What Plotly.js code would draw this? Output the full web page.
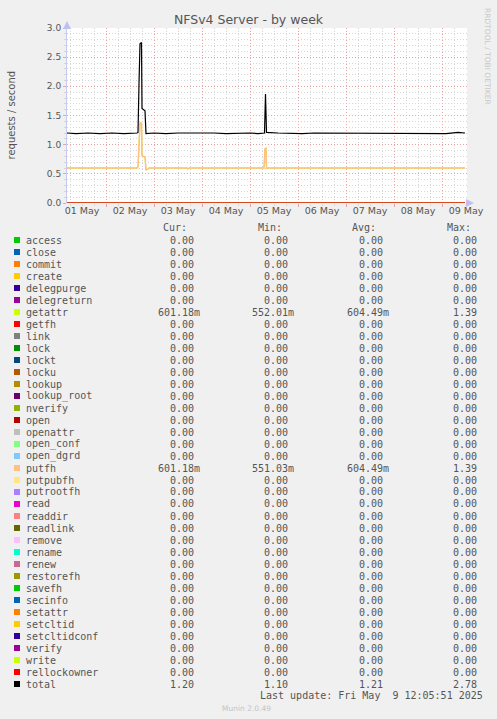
<!DOCTYPE html>
<html>
<head>
<meta charset="utf-8">
<script src="https://cdn.plot.ly/plotly-3.0.1.min.js"></script>
<style>
  html, body { margin: 0; padding: 0; background: #f0f0f0; }
  #graph { width: 497px; height: 719px; }
</style>
</head>
<body>
<div id="graph"></div>
<script>
"use strict";

// legend / series list, in munin field order
var fieldNames = ["access", "close", "commit", "create", "delegpurge", "delegreturn", "getattr", "getfh",
    "link", "lock", "lockt", "locku", "lookup", "lookup_root", "nverify", "open", "openattr", "open_conf",
    "open_dgrd", "putfh", "putpubfh", "putrootfh", "read", "readdir", "readlink", "remove", "rename", "renew",
    "restorefh", "savefh", "secinfo", "setattr", "setcltid", "setcltidconf", "verify", "write", "rellockowner", "total"];
var fieldColors = ["#00CC00", "#0066B3", "#FF8000", "#FFCC00", "#330099", "#990099", "#CCFF00", "#FF0000",
    "#808080", "#008F00", "#00487D", "#B35A00", "#B38F00", "#6B006B", "#8FB300", "#B30000", "#BEBEBE", "#80FF80",
    "#80C9FF", "#FFC080", "#FFE680", "#AA80FF", "#EE00CC", "#FF8080", "#666600", "#FFBFFF", "#00FFCC", "#CC6699",
    "#999900", "#00CC00", "#0066B3", "#FF8000", "#FFCC00", "#330099", "#990099", "#CCFF00", "#FF0000", "#000000"];

var curValues = ["0.00", "0.00", "0.00", "0.00", "0.00", "0.00", "601.18m", "0.00", "0.00", "0.00", "0.00", "0.00",
    "0.00", "0.00", "0.00", "0.00", "0.00", "0.00", "0.00", "601.18m", "0.00", "0.00", "0.00", "0.00", "0.00", "0.00",
    "0.00", "0.00", "0.00", "0.00", "0.00", "0.00", "0.00", "0.00", "0.00", "0.00", "0.00", "1.20"];
var minValues = ["0.00", "0.00", "0.00", "0.00", "0.00", "0.00", "552.01m", "0.00", "0.00", "0.00", "0.00", "0.00",
    "0.00", "0.00", "0.00", "0.00", "0.00", "0.00", "0.00", "551.03m", "0.00", "0.00", "0.00", "0.00", "0.00", "0.00",
    "0.00", "0.00", "0.00", "0.00", "0.00", "0.00", "0.00", "0.00", "0.00", "0.00", "0.00", "1.10"];
var avgValues = ["0.00", "0.00", "0.00", "0.00", "0.00", "0.00", "604.49m", "0.00", "0.00", "0.00", "0.00", "0.00",
    "0.00", "0.00", "0.00", "0.00", "0.00", "0.00", "0.00", "604.49m", "0.00", "0.00", "0.00", "0.00", "0.00", "0.00",
    "0.00", "0.00", "0.00", "0.00", "0.00", "0.00", "0.00", "0.00", "0.00", "0.00", "0.00", "1.21"];
var maxValues = ["0.00", "0.00", "0.00", "0.00", "0.00", "0.00", "1.39", "0.00", "0.00", "0.00", "0.00", "0.00",
    "0.00", "0.00", "0.00", "0.00", "0.00", "0.00", "0.00", "1.39", "0.00", "0.00", "0.00", "0.00", "0.00", "0.00",
    "0.00", "0.00", "0.00", "0.00", "0.00", "0.00", "0.00", "0.00", "0.00", "0.00", "0.00", "2.78"];

var dayTicks = ["2025-05-01 12:00", "2025-05-02 12:00", "2025-05-03 12:00", "2025-05-04 12:00", "2025-05-05 12:00",
    "2025-05-06 12:00", "2025-05-07 12:00", "2025-05-08 12:00", "2025-05-09 12:00"];
var dayLabels = ["01 May", "02 May", "03 May", "04 May", "05 May", "06 May", "07 May", "08 May", "09 May"];

var totalTimes = ["2025-05-01 04:30", "2025-05-01 09:00", "2025-05-01 15:00", "2025-05-01 21:00", "2025-05-02 03:00",
    "2025-05-02 09:00", "2025-05-02 15:30", "2025-05-02 16:00", "2025-05-02 16:30", "2025-05-02 17:00",
    "2025-05-02 17:45", "2025-05-02 18:00", "2025-05-02 19:30", "2025-05-02 20:00", "2025-05-03 00:00",
    "2025-05-03 06:00", "2025-05-03 12:00", "2025-05-03 18:00", "2025-05-04 00:00", "2025-05-04 06:00",
    "2025-05-04 12:00", "2025-05-04 18:00", "2025-05-05 00:00", "2025-05-05 04:00", "2025-05-05 07:15",
    "2025-05-05 07:45", "2025-05-05 08:15", "2025-05-05 14:00", "2025-05-05 20:00", "2025-05-06 02:00",
    "2025-05-06 08:00", "2025-05-06 14:00", "2025-05-06 20:00", "2025-05-07 02:00", "2025-05-07 08:00",
    "2025-05-07 14:00", "2025-05-07 20:00", "2025-05-08 02:00", "2025-05-08 08:00", "2025-05-08 14:00",
    "2025-05-08 20:00", "2025-05-09 02:00", "2025-05-09 08:00", "2025-05-09 11:30"];
var totalValues = [1.20, 1.19, 1.20, 1.19, 1.20,
    1.19, 1.20, 1.21, 2.05, 2.73,
    2.75, 1.62, 1.58, 1.19, 1.20,
    1.19, 1.20, 1.20, 1.21, 1.20,
    1.19, 1.20, 1.20, 1.19, 1.20,
    1.87, 1.21, 1.20, 1.19, 1.19,
    1.20, 1.20, 1.19, 1.20, 1.20,
    1.19, 1.20, 1.20, 1.19, 1.20,
    1.20, 1.19, 1.21, 1.20];

var opTimes = ["2025-05-01 04:30", "2025-05-02 15:30", "2025-05-02 16:00", "2025-05-02 16:30", "2025-05-02 17:00",
    "2025-05-02 17:45", "2025-05-02 18:00", "2025-05-02 19:30", "2025-05-02 20:00", "2025-05-02 21:00",
    "2025-05-02 21:30", "2025-05-03 16:30", "2025-05-03 17:00", "2025-05-03 17:30", "2025-05-04 08:00",
    "2025-05-04 08:30", "2025-05-04 09:00", "2025-05-05 07:00", "2025-05-05 07:30", "2025-05-05 08:00",
    "2025-05-05 08:15", "2025-05-08 04:30", "2025-05-08 05:00", "2025-05-08 05:30", "2025-05-09 11:30"];
var getattrValues = [0.60, 0.60, 0.62, 0.95, 1.37,
    1.37, 0.81, 0.79, 0.57, 0.58,
    0.60, 0.60, 0.585, 0.60, 0.60,
    0.59, 0.60, 0.60, 0.93, 0.94,
    0.60, 0.60, 0.59, 0.60, 0.60];
var putfhValues = [0.60, 0.60, 0.62, 0.95, 1.37,
    1.37, 0.81, 0.79, 0.57, 0.58,
    0.60, 0.60, 0.585, 0.60, 0.60,
    0.59, 0.60, 0.60, 0.93, 0.94,
    0.60, 0.60, 0.59, 0.60, 0.60];

var zeroTimes = ["2025-05-01 04:30", "2025-05-09 11:30"];
var zeroValues = [0, 0];

var xRange = ["2025-05-01 04:30", "2025-05-09 12:30"];

// plot area in page pixels: x 67..467, y 28..203
function px(x) { return (x - 67) / 400; }
function py(y) { return (203 - y) / 175; }

var textColor = "#555555";
var mono = "DejaVu Sans Mono, monospace";
var sans = "DejaVu Sans, sans-serif";

var traces = [];
for (var i = 0; i < fieldNames.length; i++) {
    var name = fieldNames[i];
    var xs = zeroTimes, ys = zeroValues, w = 1;
    if (name === "getattr") { xs = opTimes; ys = getattrValues; }
    if (name === "putfh") { xs = opTimes; ys = putfhValues; w = 1.5; }
    if (name === "total") { xs = totalTimes; ys = totalValues; w = 1.2; }
    traces.push({
        x: xs, y: ys, name: name, type: "scatter", mode: "lines",
        xaxis: name === "total" ? "x2" : "x",
        line: { color: fieldColors[i], width: w },
        hoverinfo: "skip"
    });
}

var annotations = [];
var shapes = [];
function label(x, y, text, anchor, font) {
    annotations.push({
        xref: "paper", yref: "paper", x: px(x), y: py(y), text: text, showarrow: false,
        xanchor: anchor, yanchor: "middle", borderpad: 0, borderwidth: 0, font: font
    });
}
function cell(v) {
    // rrdtool leaves a blank where the si suffix would go
    return /[a-z]$/i.test(v) ? v : v + "\u00a0";
}

var legendFont = { family: mono, size: 10, color: textColor };
label(162.7, 227, "Cur:", "left", legendFont);
label(258, 227, "Min:", "left", legendFont);
label(352, 227, "Avg:", "left", legendFont);
label(447, 227, "Max:", "left", legendFont);

for (var j = 0; j < fieldNames.length; j++) {
    var rowY = 240 + 12 * j;
    shapes.push({
        type: "rect", xref: "paper", yref: "paper",
        x0: px(14), x1: px(20), y0: py(rowY + 3), y1: py(rowY - 3),
        fillcolor: fieldColors[j], line: { width: 0 }
    });
    label(26.3, rowY, fieldNames[j], "left", legendFont);
    label(199.5, rowY, cell(curValues[j]), "right", legendFont);
    label(294, rowY, cell(minValues[j]), "right", legendFont);
    label(388.5, rowY, cell(avgValues[j]), "right", legendFont);
    label(483, rowY, cell(maxValues[j]), "right", legendFont);
}
label(483, 695.5, "Last update: Fri May\u00a0\u00a09 12:05:51 2025", "right", legendFont);
label(222, 708.5, "Munin 2.0.49", "left", { family: sans, size: 7.5, color: "#c4c4c4" });

annotations.push({
    xref: "paper", yref: "paper", x: px(11), y: py(114.5), text: "requests / second", showarrow: false,
    textangle: -90, xanchor: "center", yanchor: "middle", font: { family: sans, size: 10, color: textColor }
});
annotations.push({
    xref: "paper", yref: "paper", x: px(488), y: py(56), text: "RRDTOOL / TOBI OETIKER", showarrow: false,
    textangle: 90, xanchor: "center", yanchor: "middle", font: { family: sans, size: 7.5, color: "#c8c8c8" }
});
// axis arrows
annotations.push({
    xref: "paper", yref: "paper", x: 0, y: py(21), ax: 0, ay: 8, text: "", showarrow: true,
    arrowhead: 2, arrowsize: 1.6, arrowwidth: 1, arrowcolor: "#c0c0f0"
});
annotations.push({
    xref: "paper", yref: "paper", x: px(474), y: 0, ax: -8, ay: 0, text: "", showarrow: true,
    arrowhead: 2, arrowsize: 1.6, arrowwidth: 1, arrowcolor: "#c0c0f0"
});

var majorGrid = "#e6a6a6";
var minorGrid = "#d6d6d6";
var dots = "1px,2px";

var layout = {
    width: 497, height: 719,
    margin: { l: 67, r: 30, t: 28, b: 516, pad: 0 },
    paper_bgcolor: "#f0f0f0",
    plot_bgcolor: "#ffffff",
    showlegend: false,
    title: {
        text: "NFSv4 Server - by week",
        font: { family: sans, size: 12.5, color: textColor },
        x: 0.5, xanchor: "center", y: 1 - 19.5 / 719, yanchor: "middle"
    },
    xaxis: {
        type: "date", range: xRange, fixedrange: true,
        tickmode: "linear", tick0: "2025-05-01", dtick: 86400000,
        showticklabels: false, ticks: "outside", ticklen: 3, tickcolor: majorGrid,
        showgrid: true, gridcolor: majorGrid, gridwidth: 1, griddash: dots,
        minor: {
            tick0: "2025-05-01", dtick: 21600000, showgrid: true, gridcolor: minorGrid, griddash: dots,
            ticks: "outside", ticklen: 2, tickcolor: minorGrid
        },
        zeroline: false, showline: false
    },
    xaxis2: {
        type: "date", range: xRange, fixedrange: true, overlaying: "x", anchor: "y", side: "bottom",
        tickmode: "array", tickvals: dayTicks, ticktext: dayLabels, ticks: "",
        showgrid: false, zeroline: false, showline: false,
        tickfont: { family: sans, size: 9.5, color: textColor }
    },
    yaxis: {
        range: [0, 3], fixedrange: true, tick0: 0, dtick: 0.5, tickformat: ".1f",
        ticks: "outside", ticklen: 3, tickcolor: majorGrid,
        showgrid: true, gridcolor: majorGrid, gridwidth: 1, griddash: dots,
        minor: { dtick: 0.1, showgrid: true, gridcolor: minorGrid, griddash: dots, ticks: "outside", ticklen: 2, tickcolor: minorGrid },
        zeroline: false, showline: true, linecolor: "#c8c8f0", linewidth: 1,
        tickfont: { family: sans, size: 9, color: textColor }
    },
    annotations: annotations,
    shapes: shapes
};

Plotly.newPlot("graph", traces, layout, { staticPlot: true, displayModeBar: false });
</script>
</body>
</html>
